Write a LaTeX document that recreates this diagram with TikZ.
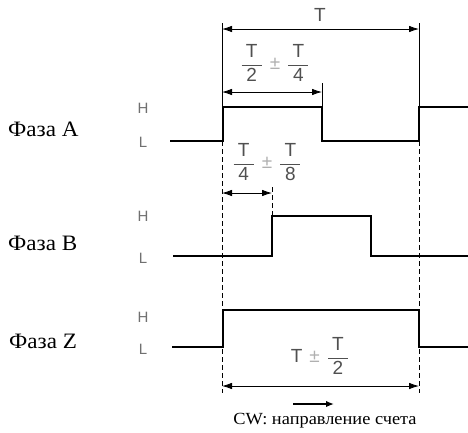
\documentclass[tikz,border=0pt]{standalone}
\usepackage{fontspec}
\setmainfont{Liberation Serif}
\newfontfamily\hel{Liberation Sans}
\usetikzlibrary{arrows.meta}
\definecolor{txtgray}{HTML}{505050}
\definecolor{pmgray}{HTML}{B0B0B0}
\definecolor{hlgray}{HTML}{707070}
\newcommand{\myfr}[2]{$\displaystyle\frac{\makebox[20pt]{\hel #1}}{\makebox[20pt]{\hel #2}}$}
\newcommand{\mypm}{\hspace{7pt}\textcolor{pmgray}{\hel ±}\hspace{7pt}}
\begin{document}
\begin{tikzpicture}[x=1pt,y=-1pt,
  sig/.style={line width=2.2pt,line join=miter},
  dim/.style={line width=0.8pt,{Latex[length=10pt,width=6.5pt]}-{Latex[length=10pt,width=6.5pt]}},
  ext/.style={line width=0.8pt},
  dsh/.style={line width=0.8pt,dash pattern=on 5pt off 3pt},
  phase/.style={font=\fontsize{22}{24}\selectfont,anchor=base west,inner sep=0pt},
  hl/.style={font=\hel\fontsize{15}{17}\selectfont,text=hlgray,inner sep=0pt},
  frac/.style={font=\hel\fontsize{19}{22}\selectfont,text=txtgray,inner sep=0pt},
  captext/.style={font=\fontsize{17}{20}\selectfont,anchor=base,inner sep=0pt}]
\useasboundingbox (0,0) rectangle (468,432);
% key coordinates
\coordinate (t1) at (222,23);  \coordinate (t2) at (419,23);
\coordinate (m1) at (322,83);
\coordinate (d1) at (222,141); \coordinate (d1e) at (222,393);
\coordinate (d2) at (419,141); \coordinate (d2e) at (419,393);
\coordinate (b1) at (272,187); \coordinate (b1e) at (272,216);
% extension lines
\draw[ext] (t1) -- (222,107);
\draw[ext] (t2) -- (419,107);
\draw[ext] (m1) -- (322,107);
\draw[dsh] (d1) -- (d1e);
\draw[dsh] (d2) -- (d2e);
\draw[dsh] (b1) -- (b1e);
% signals
\draw[sig] (170,141) -- (223,141) -- (223,107) -- (322,107) -- (322,141) -- (419,141) -- (419,107) -- (468,107);
\draw[sig] (173,256) -- (272,256) -- (272,216) -- (371,216) -- (371,256) -- (468,256);
\draw[sig,line width=1.9pt] (172,347) -- (223,347) -- (223,310) -- (419,310) -- (419,347) -- (468,347);
% dimension arrows
\coordinate (a1l) at (222,29);  \coordinate (a1r) at (419,29);
\coordinate (a2l) at (222,92);  \coordinate (a2r) at (322,92);
\coordinate (a3l) at (222,193); \coordinate (a3r) at (272,193);
\coordinate (a4l) at (222,386); \coordinate (a4r) at (419,386);
\draw[dim] (a1l) -- (a1r);
\draw[dim] (a2l) -- (a2r);
\draw[dim] (a3l) -- (a3r);
\draw[dim] (a4l) -- (a4r);
% dimension labels
\node[frac] (lT) at (320,15) {T};
\node[frac] (lA) at (275,63) {\myfr{T}{2}\mypm\myfr{T}{4}};
\node[frac] (lB) at (267,162) {\myfr{T}{4}\mypm\myfr{T}{8}};
\node[frac] (lZ) at (320,356) {T\mypm\myfr{T}{2}};
% phase labels
\node[phase] (pA) at (8,136.7) {\scalebox{1.05}[1]{Фаза A}};
\node[phase] (pB) at (8,250) {\scalebox{1.05}[1]{Фаза B}};
\node[phase] (pZ) at (9,348.3) {\scalebox{1.05}[1]{Фаза Z}};
% H/L labels
\node[hl] (hA) at (143,108.5) {H};
\node[hl] (lA2) at (143,142.5) {L};
\node[hl] (hB) at (143,216.7) {H};
\node[hl] (lB2) at (143,258.5) {L};
\node[hl] (hZ) at (143,317) {H};
\node[hl] (lZ2) at (143,349.5) {L};
% direction
\coordinate (cw1) at (293,404); \coordinate (cw2) at (334,404);
\draw[line width=2.4pt,-{Latex[length=8pt,width=6.5pt]}] (cw1) -- (cw2);
\node[captext] (captxt) at (325,424) {\scalebox{1.08}[1]{CW: направление счета}};
\end{tikzpicture}
\end{document}
